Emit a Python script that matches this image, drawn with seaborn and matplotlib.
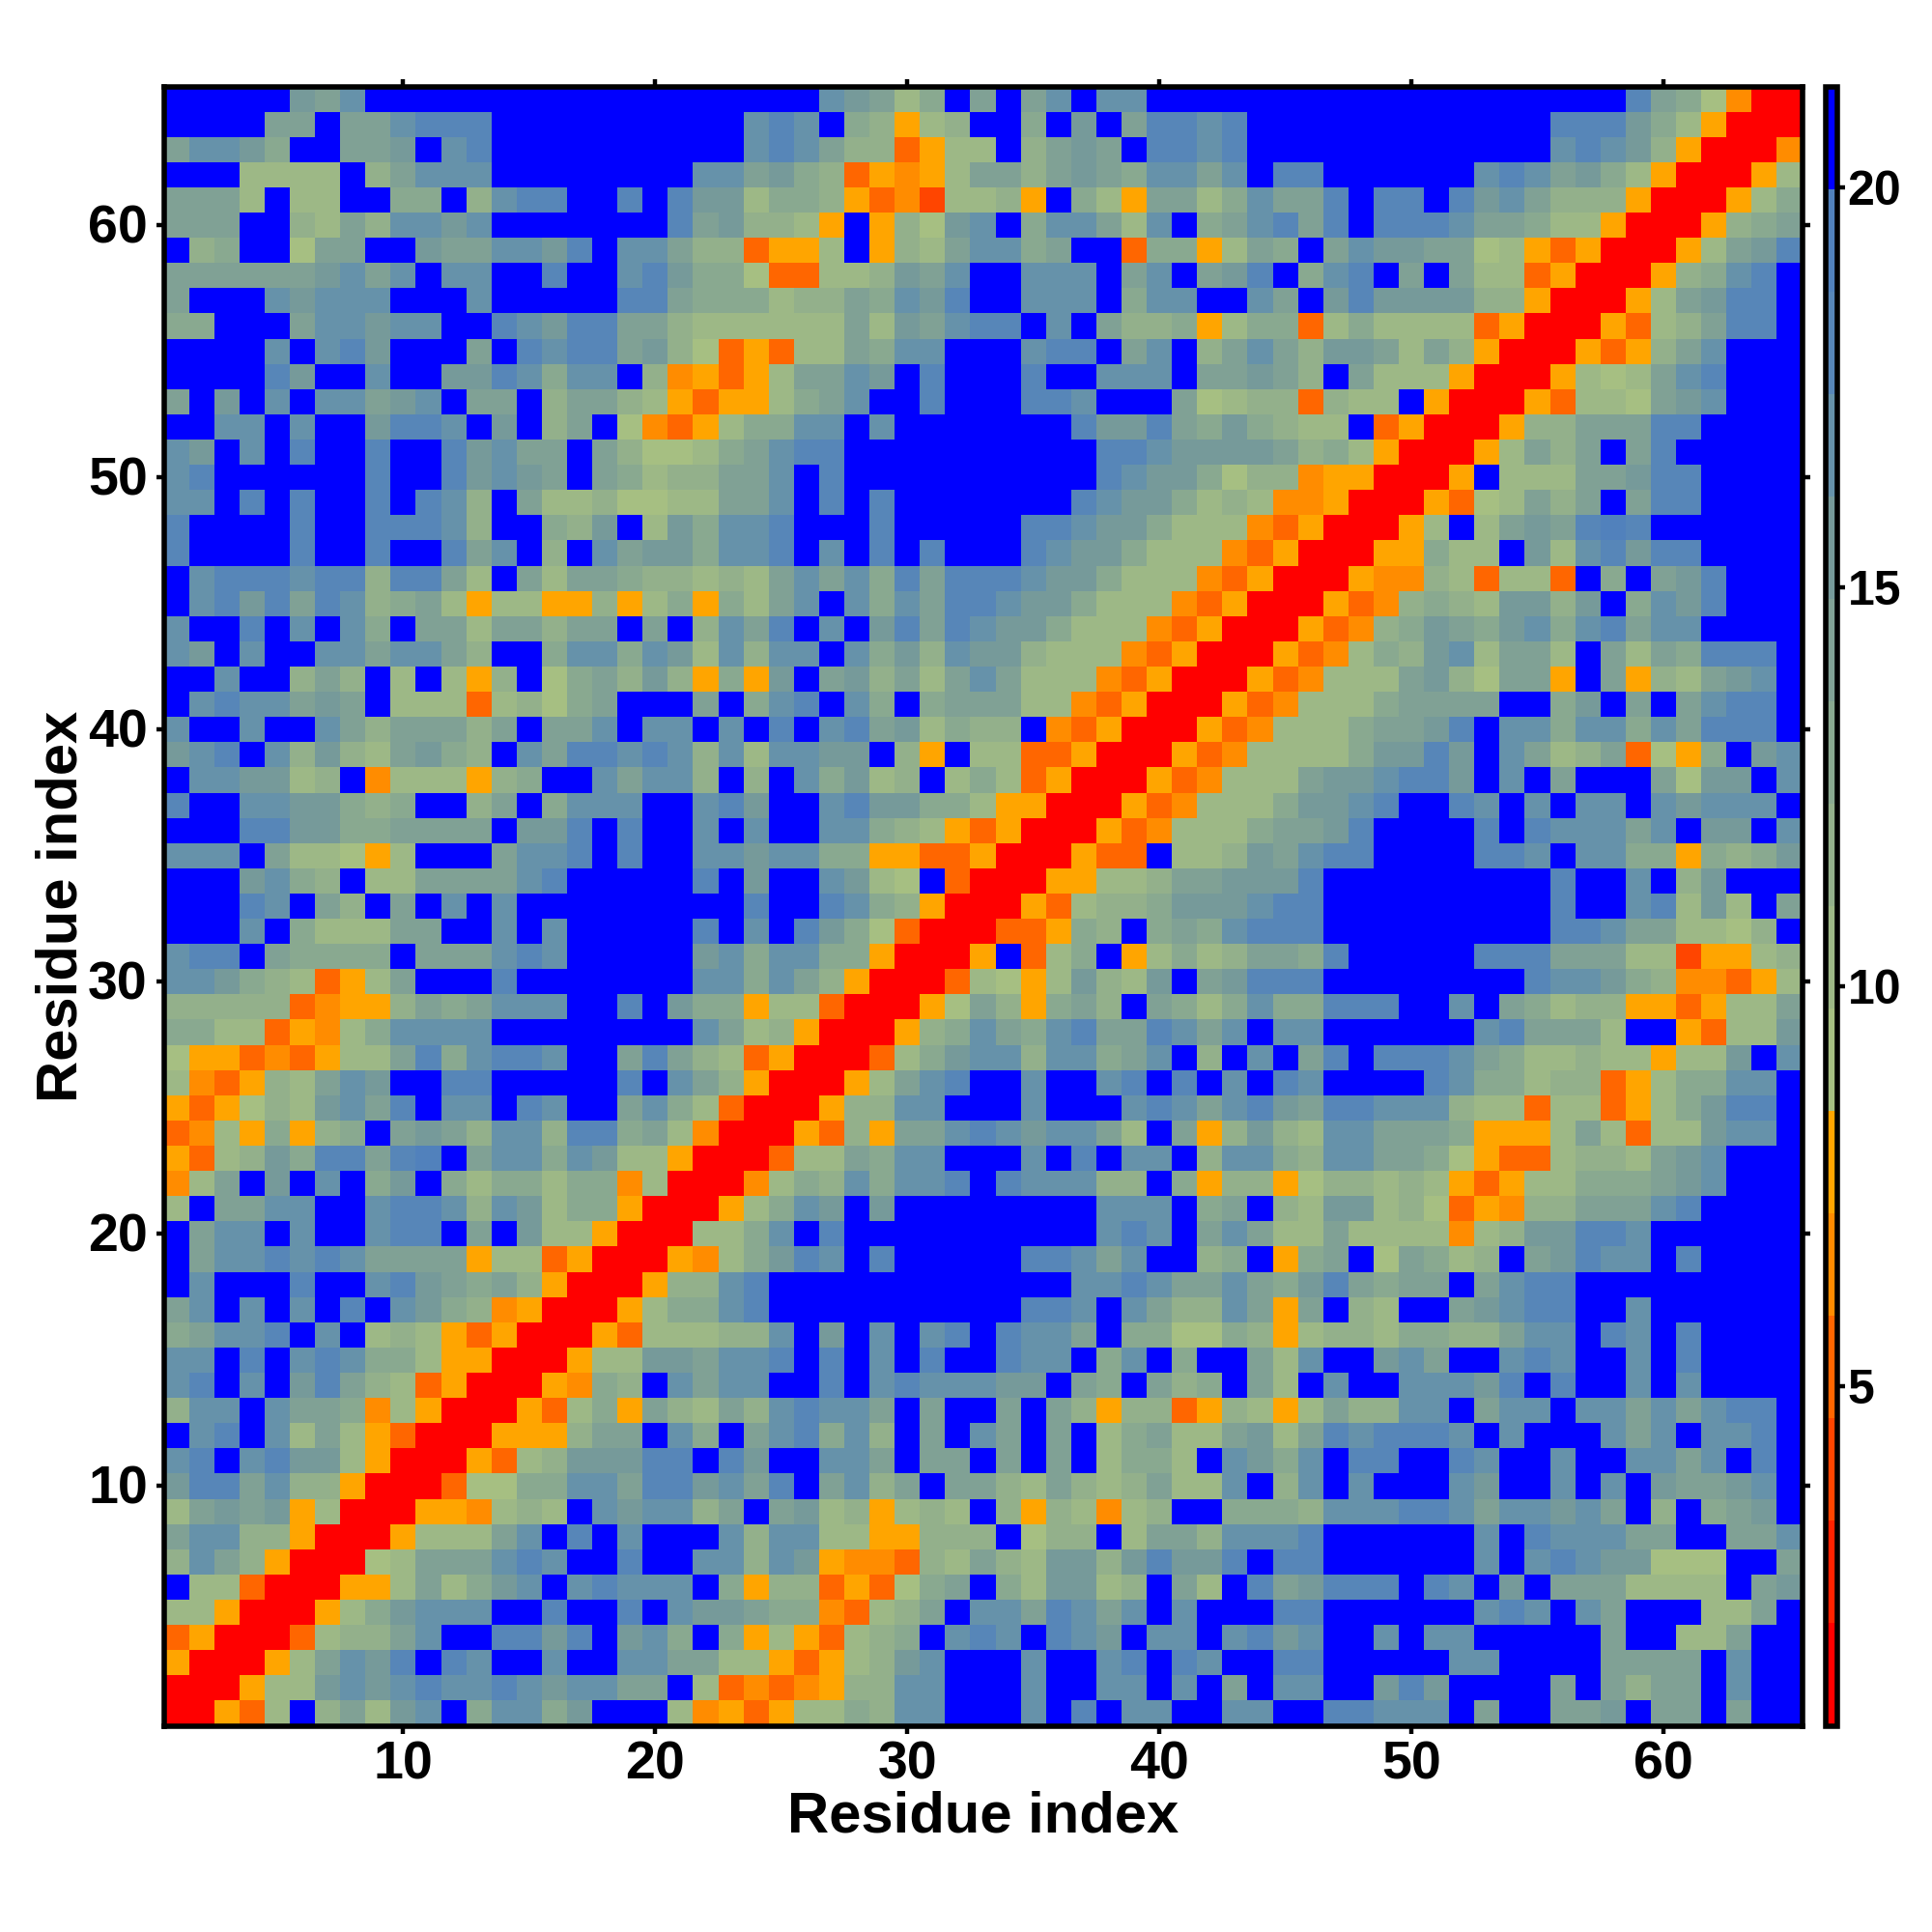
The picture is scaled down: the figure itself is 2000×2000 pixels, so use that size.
import numpy as np
import pandas as pd
import matplotlib
matplotlib.use('Agg')
import matplotlib.pyplot as plt
from matplotlib.colors import ListedColormap
from matplotlib.transforms import ScaledTranslation
import seaborn as sns

# contour levels (distance, one per colour band)
distance_levels = [1.4, 2.7, 4.0, 5.2, 6.5, 7.8, 9.1, 10.4, 11.6, 12.9, 14.2, 15.5, 16.8, 18.0, 19.3, 20.6]

level_colors = ['#ff0000', '#ff2200', '#ff4500', '#ff6600', '#ff8c00', '#ffa500',
                '#a6bf82', '#9db886', '#93b08b', '#89a990', '#80a195', '#769a9a',
                '#6692aa', '#5786b8', '#5181bc', '#0000ff']

tick_values = [10, 20, 30, 40, 50, 60]
key_ticks = [5, 10, 15, 20]
axis_label = 'Residue index'

# one string per row, residue 65 first; each character is a band in distance_levels (hex)
# the spaces only split columns 1-22, 23-44, 45-65
cell_rows = [
    "fffffbacffffffffffffff ffffcba79fafacfccfffff ffffffffffffffda96400",
    "ffffaafaacdddfffffffff fcdcf98578ff9fbfaddcdf fffffffffffdddb975000",
    "accb9ffaabfcdfffffffff fcdca883577f8abafddcdf fffffffffffcdcb850004",
    "fff7777f8acccffffffffc cab9835457aa8aba9ccacf ddffffffcdcab97500057",
    "aaa7f77ff99f8cddffdfdb b799853427785f975aa79c aadfddfdbca8885000579",
    "aaaff87a8ccbcfffffffda b8875f586bcf9cca7cf9ac dadfdddcaa9775000589a",
    "f89ff6aaffbaaccbdfcca8 83557f587acc9aff39957a 9facbbaa6753500057abd",
    "aaaaaabcacfccffdffcdb9 9633778bacffcccfacfabd f9cdfafa7735000589cdf",
    "afffcbcccfffcfffffdda9 99788a9cbdffcccf9ccffc afbdbbbb88500057abddf",
    "99fffaccbccffdcbddaa87 77777a7bacddfcfa889579 93797777350005378addf",
    "ffffcfcdbfffafdcddab86 35377a9ccfffcddfacf8ac a8bba7a850005358acfff",
    "ffffdbffcffbbdc9ccf845 357aacbfdfffdffcccfaab a8fa77750005767acdfff",
    "afbfcfccabcfaaf8aa8753 5579acffdfffddcfffa678 83877f500053776abcfff",
    "ffccfcffbddcfbf8af6435 799ccfcfffffffdbbda9b9 877f35000588aaaddffff",
    "cbfcfdffdffdbcaafa8667 9acddffffffffffddcbbbb a897500057a8afadfffff",
    "cdffffffdffdbcbafa9788 aacfdffffffffffdcbb968 84550005f777aabddffff",
    "ccfdfdffdfdc8fa7786677 aacfdfdfffffffdcbb9787 4450005367a8afaddffff",
    "dffffdffdddc8ff98bf7b9 ccdfffdfffffddcbb97774 3500057f7abadedffffff",
    "dffffdffdffdacf8fcabb9 ccdfcfdfdfffdcbb977743 500055977fb7cdbddffff",
    "fcdddcdd8dda7fa7aa9887 87acac9dadddcbb9777435 000544873773f9fabdfff",
    "fcdbdadc89a75775585795 97acfc9caddcbb97774350 005348987bb8bf9cbdfff",
    "cffdfcfc9faa7aa8aafaf8 cadfcfbdadcbb977743500 053489ba9bc9cdaccffff",
    "cbfcffccacca8ff9cc9cb7 c8ccfc9b8cbb8777435000 534798bc7aa7fa7a9dddf",
    "ffcff8a8f7f758f69a8b85 95bfab8a7aca7774350005 34777ab86aa5fa587abcf",
    "fcdccabaf77737869afffa f9cdfc9f9aaa7743500053 47779aaaaff9bfafacddf",
    "cffcffca8aaa8afaacfccf cfdfcdab7988f435000534 7779aabdfcc9cc9cadddf",
    "bcdfc8b87ab98fcaddcdc8 c7ccbbf85f773350005347 7779bbdbfca78a3659fbc",
    "fccbb78f4777589ffcacc8 f8fc9b78f7973500053477 7abbcddbfcfafffa6bbfc",
    "dffccbb989ff8af9cccffc dbffcdbb99755000534777 9bbcdffdcfcfccfcbcccf",
    "fffddbb99aaaafbbdfdffc fcffcc9875350005347779 aabdffffdfdcccacfbbfc",
    "cccfa77657fffaccdfdffc cbcc9955335000533f778b acddffffddcfcc995989b",
    "fffbc98f77aaaacdfffffd fbffcb76f300055778aabb bdfffffffffdffcf8bfff",
    "fffdcfa8fafcfcffffffff fdffdc985000537889bbbc ddfffffffffdffcd7b7fa",
    "fffcf9777aaffcfcfffffd fcfdb96300033598f9a9cd ddfffffffffddcaa7768f",
    "cddfa9999faaacdcfffffb c9cc9950005f379f57978a a9dfffffdddaaa7725578",
    "ccb987357afffdfffffffc c9ca8500037657b87bfabd ddffffffffdccb9844357",
    "8888834558a9acccffdfb9 9577300056a859a8fa979c 99dddffcfa9788553577a",
    "997735479ccccffffffffc a785000589ca9cdaadcacf ccffffffcdaaa7ff5377b",
    "655343577ad9cddcffada8 735000379bcc8cc9acf8fc fadfdddca977877577bfc",
    "743587acbffddfffffdfca 8500057acdffcffcdfdfcf dcffffdc9978835799ccf",
    "535687bcadfccfdcffac97 3000588ccfffcfffcdcacd baddccc8773773579bddf",
    "34759589faba8cc8dd9a74 0005385aacdcbcca7fa58b 87ccaaa95557a7377bccf",
    "5378b9ddadefacc9cb7750 00377a9ccfffcfdfccf8cc 98ccaa965337887abcfff",
    "47afbfcf9bf97997994700 04798c9ccdfdccc88f9588 568878753577999abcfff",
    "7faaccffcddc8cb7995000 579cbfbffffffffcccf9af 87bb78635488aaacdffff",
    "faccfcffcddfafb7750007 79cfdffffffffffcdcfaca 77a7777478bbddcffffff",
    "faccdcdcaaaa5773500054 79bdcfdfffffddcacff89f 59af6a978fabdccfdffff",
    "fcfffdffcdba9a85000588 cdffffffffffffccdcaaca 9bda9aafacddfffffffff",
    "acfcfcfdfcb98450005799 cdffffffffffddcfca88ca 5af87ffabcddffcffffff",
    "9accdfcf78753500053777 88cfbfcfcdfdccaf996698 578879988accfdcfdffff",
    "ccfdfcdc99755000577bba ccdfdfcfdffdccf9cf9ffa 7cffbcaffcdcffcfdffff",
    "cdfcfbda87350005498fca ccffdfcdcccbbfa9fa89fa 7fcffcccbdfdffcfcffff",
    "8ccfcaa947500053795a87 a8cdccafaffafa85883587 57a88ccfaccfccacacddf",
    "fcdfc7a7530005558aafc9 facd9c8fafcafaf79a77ab 7adcdddcfcfffcacfccdf",
    "cdfcdbb750005378bbbddf dbffccafaafafaf7997fcb 9cfddffdcffcffccacfdf",
    "bddac88500036699ccaddb cadfac8afaa87a878a77cf 8cfcfffcbffcfcfbaabcf",
    "7abab57000554787fcbcc8 afab785787f8587478ff99 98cccddcaccbcaf8f9abf",
    "acc8850005777acfdfcfff c8cc7755888f688f7aa8cc cdffffffcfdcccaaffaac",
    "8ca8500067aaacdcffdffc c8cb544387a87bb8bdbbdf ddffffffcfcdcbb666ffa",
    "f773000557a79bcfcdcccf 958835369af97bb78fa7fd abdddfdcfbfaaa7777fab",
    "775000579bcccffdffdfcb ba994378afccadcacfcfff ddffffffcdcfcafff77af",
    "350003788acffddbdfbc9f 95753789fcdcfdcbfccfcd bcffcfccfffffaff77aff",
    "500057acbdfdcffcffccaa 7753578bcfffcffcdfdcff ddfffffccffffaaaafcff",
    "000577bcbcdccdcbccaaf7 3434588ccfffcffccfcfaf ccffbdbffffafa8aafcff",
    "00537f8a7bcf9cc9bfff74 5357798ccfffcfdfccffcc ffddcccfaffaabfaafaff",
]

sns.set_theme(style='white')
plt.rcParams['font.family'] = ['Liberation Sans', 'DejaVu Sans']
plt.rcParams['font.weight'] = 'bold'
plt.rcParams['axes.labelweight'] = 'bold'
plt.rcParams['text.color'] = 'black'
plt.rcParams['axes.labelcolor'] = 'black'
plt.rcParams['xtick.labelcolor'] = 'black'
plt.rcParams['ytick.labelcolor'] = 'black'

grid = [[distance_levels[int(c, 16)] for c in row.replace(' ', '')] for row in cell_rows]
residues = list(range(1, 66))
df = pd.DataFrame(grid, index=residues[::-1], columns=residues)

fig = plt.figure(figsize=(20, 20), dpi=100)
ax = fig.add_axes([169.5 / 2000, 1 - 1786.5 / 2000, 1696 / 2000, 1697 / 2000])
cax = fig.add_axes([1889.5 / 2000, 1 - 1786.5 / 2000, 12 / 2000, 1697 / 2000])

sns.heatmap(df, ax=ax, cbar_ax=cax, cmap=ListedColormap(level_colors),
            vmin=0.755, vmax=21.26, square=False, linewidths=0,
            cbar_kws={'ticks': key_ticks})

ax.set_xticks([t - 0.5 for t in tick_values])
ax.set_xticklabels(tick_values, rotation=0)
ax.set_yticks([65 - t + 0.5 for t in tick_values])
ax.set_yticklabels(tick_values, rotation=0)
ax.tick_params(axis='both', which='major', top=True, right=True, bottom=True, left=True,
               length=6, width=3.2, color='black', labelcolor='black', labelsize=40, pad=6)
ax.tick_params(axis='x', pad=5)
for side in ax.spines.values():
    side.set_visible(True)
    side.set_linewidth(4)
    side.set_color('black')

ax.set_xlabel(axis_label, fontsize=43, fontweight='bold', labelpad=0, color='black')
ax.set_ylabel(axis_label, fontsize=43, fontweight='bold', labelpad=0, color='black')

cbar = ax.collections[0].colorbar
cbar.outline.set_visible(True)
cbar.outline.set_linewidth(4)
cbar.outline.set_edgecolor('black')
cbar.ax.tick_params(length=6, width=3.2, color='black', labelcolor='black', labelsize=36, pad=2, right=True)
cbar.set_ticks(key_ticks)
cbar.set_ticklabels([str(k) for k in key_ticks], fontweight='bold')

# y labels sit a few pixels under their ticks in the original
nudge = ScaledTranslation(0, -3 / 72, fig.dpi_scale_trans)
for lab in ax.get_yticklabels():
    lab.set_transform(lab.get_transform() + nudge)

plt.savefig('out.png', dpi=100)
plt.close()
